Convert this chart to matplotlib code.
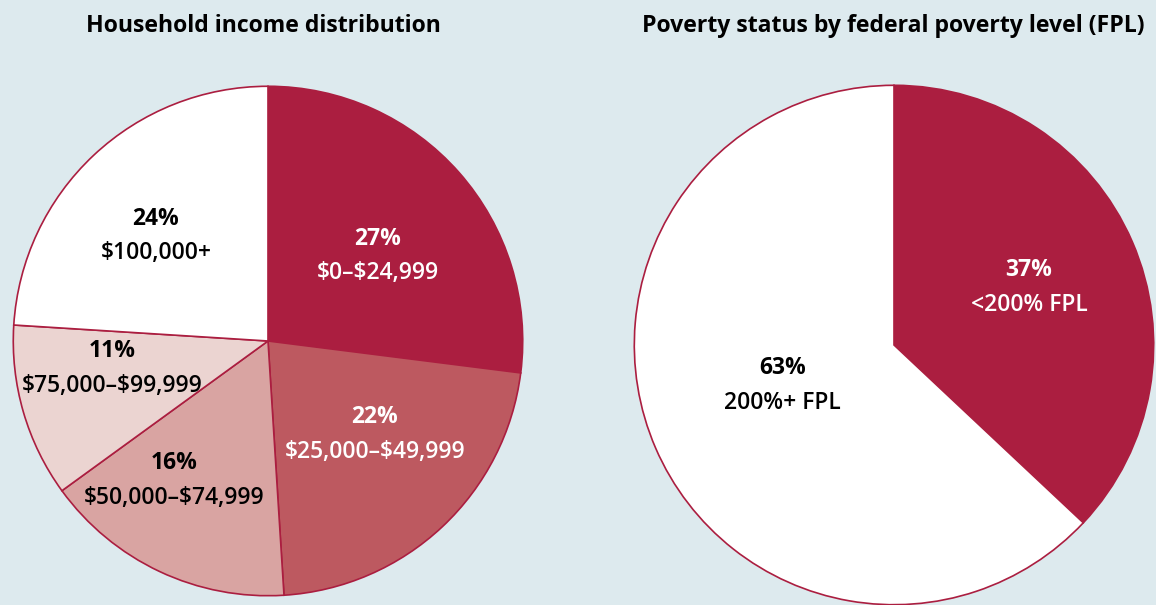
import matplotlib.pyplot as plt

# data
income_labels = ['$0–$24,999', '$25,000–$49,999', '$50,000–$74,999',
                 '$75,000–$99,999', '$100,000+']
income_pct = [27, 22, 16, 11, 24]
income_colors = ['#ab1e40', '#bd5960', '#d9a4a2', '#ebd4d1', '#ffffff']
income_text_colors = ['white', 'white', 'black', 'black', 'black']

fpl_labels = ['<200% FPL', '200%+ FPL']
fpl_pct = [37, 63]
fpl_colors = ['#ab1e40', '#ffffff']
fpl_text_colors = ['white', 'black']

BG = '#ddeaee'
EDGE = '#ab1e40'
FONT = 'Open Sans'

# label anchor spots (in pie radius units), pct on top line, range below
income_pos = [(0.43, 0.40), (0.42, -0.30), (-0.37, -0.48), (-0.61, -0.04), (-0.44, 0.48)]
fpl_pos = [(0.52, 0.29), (-0.43, -0.09)]


def draw_pie(ax, values, colors, labels, text_colors, positions):
    ax.pie(values, colors=colors, startangle=90, counterclock=False,
           radius=1, wedgeprops=dict(edgecolor=EDGE, linewidth=1.2))
    for val, lab, tc, (x, y) in zip(values, labels, text_colors, positions):
        ax.text(x, y, f'{val}%', ha='center', va='center', color=tc,
                fontsize=16.5, fontweight='bold', family=FONT, parse_math=False)
        ax.text(x, y - 0.135, lab, ha='center', va='center', color=tc,
                fontsize=16.5, fontweight='semibold', family=FONT, parse_math=False)
    ax.set_xlim(-1.005, 1.005)
    ax.set_ylim(-1.005, 1.005)
    ax.set_aspect('equal')
    ax.axis('off')


fig = plt.figure(figsize=(11.56, 6.05), dpi=100)
fig.patch.set_facecolor(BG)

ax1 = fig.add_axes([12 / 1156, 8 / 605, 512 / 1156, 512 / 605])
draw_pie(ax1, income_pct, income_colors, income_labels, income_text_colors, income_pos)

ax2 = fig.add_axes([633 / 1156, -1 / 605, 522 / 1156, 522 / 605])
draw_pie(ax2, fpl_pct, fpl_colors, fpl_labels, fpl_text_colors, fpl_pos)

fig.text(263 / 1156, 1 - 26 / 605, 'Household income distribution', ha='center', va='center',
         fontsize=16.6, fontweight='bold', family=FONT)
fig.text(893 / 1156, 1 - 26 / 605, 'Poverty status by federal poverty level (FPL)', ha='center',
         va='center', fontsize=16.6, fontweight='bold', family=FONT)

plt.savefig('out.png', dpi=100, facecolor=BG)
